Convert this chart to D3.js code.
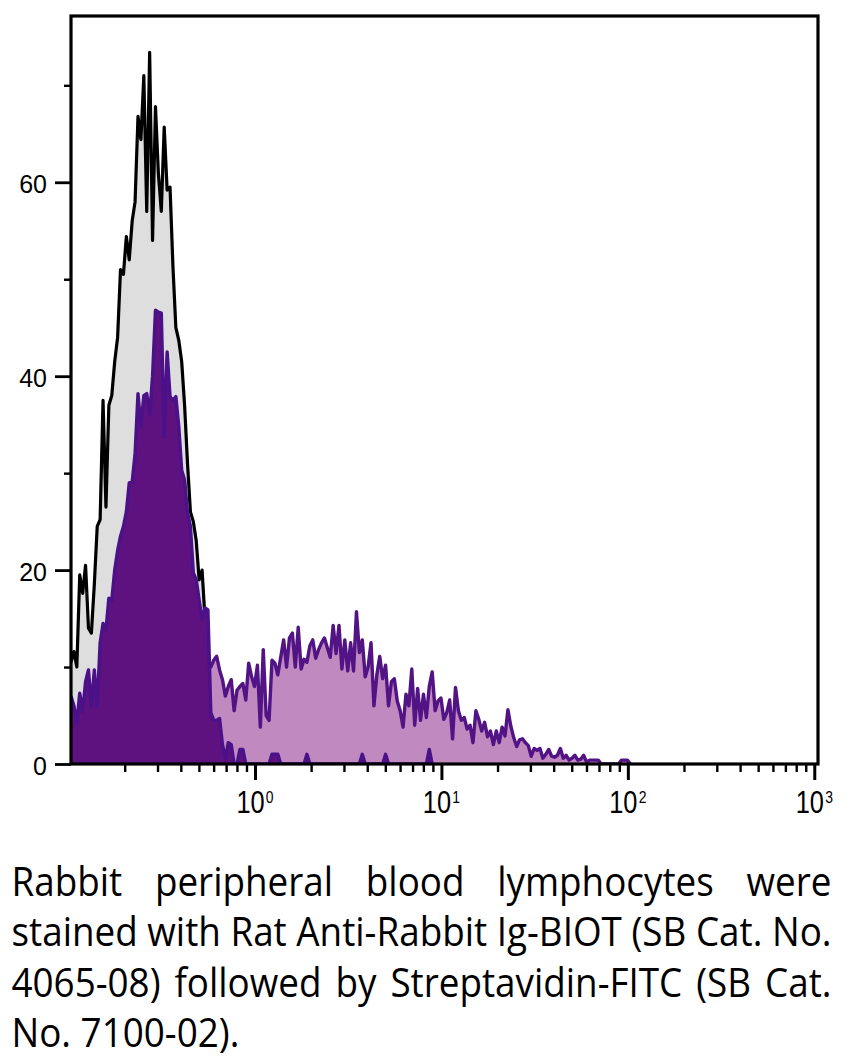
<!DOCTYPE html>
<html><head><meta charset="utf-8">
<script src="https://cdn.jsdelivr.net/npm/d3@7"></script>
<style>html,body{margin:0;padding:0;background:#fff;} svg{display:block;}</style>
</head><body>
<svg id="chart" width="850" height="1059"></svg>
<script>
// ---- data ----
const binsPerDecade = 64;          // histogram channels per decade
const firstChannelLog = -0.987;    // log10 of the first channel

// unstained cells (grey fill, black outline)
const unstainedCounts = [10.5,11.6,10,19.5,17.6,20.5,14,13.5,18.5,24.5,
  25.2,37.5,26.5,37,38,41.5,44,51,50.5,54.4,
  52,56,58,66.8,64.4,71,57,73.4,54,67.8,
  60.9,57,65.7,59.2,59.5,51.3,45,43.7,41.5,37,
  31,26,25,23,19,20,15,11,7,4,2,1,0];

// stained cells (light purple fill)
const stainedCounts = [3,3.5,2.5,4,3,5,5,3.5,5.5,4,
  7,8,7.5,9.5,9,11,12,13,13.5,14,
  16,15,17,19,18,20,20,19,21,22,
  23,22,18,21,19,19,19,18,16,16,
  14,14,11,11,10,9,10,10,
  10,10.7,11.1,9.7,8.7,7,8,8.7,5.5,7.6,
  8,8.3,6.6,10.4,9,8,10.2,3.8,11.8,5,
  4.5,10.7,10.4,9.2,11,12.8,10,13,13.5,10,
  14.1,9.8,10.8,10.5,12.2,12.8,10.9,11.8,12.5,13,
  12,11,14.3,11.4,14.3,9.8,12.8,9.6,12.5,9.6,
  15.7,11.5,12.8,9,10,12.5,6,9.2,11.1,8.8,
  10.2,6,8.5,8.8,6.5,5.5,3.8,7.2,6,9.8,
  4,7.8,4.5,7.2,4.8,8,9.5,5.5,6.5,6.8,
  4.6,5.3,6.6,2.6,7.9,5.5,4.5,4.8,3.6,4,
  2.2,5.5,4.6,3.4,4.3,2.8,3.4,2,3.4,2.2,
  3.8,2.9,5.6,3.9,2.7,1.8,2.5,2.6,2.2,1.9,
  0.8,1.6,1.4,1.6,0.6,1,1.5,0.8,0.7,0.9,
  1.6,0.6,0.9,0.4,0.6,0.9,0.4,0.5,0.9,0.2,
  0.4,0.4,0.4,0.4,0,0,0,0,0,0,
  0,0.4,0.4,0.4,0];

// control cells (dark purple fill)
const controlCounts = [7,6,4.2,7.3,5.4,8.5,9.7,5.9,9.7,6,
  12.5,14.5,13.8,17.1,16.9,20,22,23.5,24.5,26,
  29,29.1,32,38.2,34.8,38,38.2,36,40,46.8,
  46.6,46.5,33.7,42.5,37.9,37.5,37.9,34.8,30.3,29.3,
  25.9,24.5,19.7,19,16.9,14.9,16.1,15.9,5.3,4.5,
  4.5,4.7,2,0.5,2.2,2,0,0,1.5,1.5,
  0,0,0,0,0,0,0,0,0,1,
  1,1,0,0,0,0,0,0,0,0,
  0,1,0,0,0,0,0,0,0,0,
  0,0,0,0,0,0,0,0,0,0,
  1,0,0,0,0,0,0,0,1,0,
  0,0,0,0,0,0,0,0,0,0,
  0,0,0,1.5,0];

const xMajorTicks = [1, 10, 100, 1000];
const xTickExponents = ["0", "1", "2", "3"];
const xMinorTicks = [0.2,0.3,0.4,0.5,0.6,0.7,0.8,0.9,
  2,3,4,5,6,7,8,9, 20,30,40,50,60,70,80,90, 200,300,400,500,600,700,800,900];
const yMajorTicks = [0, 20, 40, 60];
const yMinorTicks = [10, 30, 50, 70];
const captionLines = [
  "Rabbit peripheral blood lymphocytes were",
  "stained with Rat Anti-Rabbit Ig-BIOT (SB Cat. No.",
  "4065-08) followed by Streptavidin-FITC (SB Cat.",
  "No. 7100-02)."
];

// ---- layout ----
const plot = {left: 71, right: 818, top: 16, bottom: 764};
const svg = d3.select("#chart");

const x = d3.scaleLog()
  .domain([Math.pow(10, -0.987), Math.pow(10, 3.02)])
  .range([plot.left, plot.right]);
const y = d3.scaleLinear().domain([0, 77.15]).range([plot.bottom, plot.top]);

const toPoints = arr => arr.map((v, i) => ({x: Math.pow(10, firstChannelLog + i / binsPerDecade), v}));

svg.append("defs").append("clipPath").attr("id", "clip")
  .append("rect").attr("x", plot.left).attr("y", plot.top)
  .attr("width", plot.right - plot.left).attr("height", plot.bottom - plot.top);

const area = d3.area().x(d => x(d.x)).y0(y(0)).y1(d => y(d.v)).curve(d3.curveLinear);
const line = d3.line().x(d => x(d.x)).y(d => y(d.v)).curve(d3.curveLinear);

const layers = [
  {data: unstainedCounts, fill: "#dedede", stroke: "#000000", sw: 3.2},
  {data: stainedCounts, fill: "#c089c0", stroke: "#521485", sw: 3.4},
  {data: controlCounts, fill: "#5e1280", stroke: "#4a1189", sw: 3.4}
];
const gPlot = svg.append("g").attr("clip-path", "url(#clip)");
layers.forEach(L => {
  const pts = toPoints(L.data);
  gPlot.append("path").datum(pts).attr("d", area).attr("fill", L.fill);
  gPlot.append("path").datum(pts).attr("d", line).attr("fill", "none")
    .attr("stroke", L.stroke).attr("stroke-width", L.sw).attr("stroke-linejoin", "round");
});

// ---- axes ----
const labelFont = "'Liberation Sans', Arial, sans-serif";
const yAxis = d3.axisLeft(y).tickValues(yMajorTicks).tickSize(16).tickPadding(8).tickFormat(d3.format("d"));
svg.append("g").attr("transform", `translate(${plot.left},0)`).call(yAxis)
  .call(g => g.select(".domain").remove())
  .call(g => g.selectAll("line").attr("stroke", "#000").attr("stroke-width", 2.8))
  .call(g => g.selectAll("text").attr("font-family", labelFont).attr("font-size", 25)
    .attr("fill", "#000").attr("dy", "0.4em"));
const yAxisMinor = d3.axisLeft(y).tickValues(yMinorTicks).tickSize(7).tickFormat("");
svg.append("g").attr("transform", `translate(${plot.left},0)`).call(yAxisMinor)
  .call(g => g.select(".domain").remove())
  .call(g => g.selectAll("line").attr("stroke", "#000").attr("stroke-width", 2.4));

const xAxis = d3.axisBottom(x).tickValues(xMajorTicks).tickSize(16).tickFormat("");
svg.append("g").attr("transform", `translate(0,${plot.bottom})`).call(xAxis)
  .call(g => g.select(".domain").remove())
  .call(g => g.selectAll("line").attr("stroke", "#000").attr("stroke-width", 3));
const xAxisMinor = d3.axisBottom(x).tickValues(xMinorTicks).tickSize(8).tickFormat("");
svg.append("g").attr("transform", `translate(0,${plot.bottom})`).call(xAxisMinor)
  .call(g => g.select(".domain").remove())
  .call(g => g.selectAll("line").attr("stroke", "#000").attr("stroke-width", 2.4));

// frame
svg.append("rect").attr("x", plot.left).attr("y", plot.top)
  .attr("width", plot.right - plot.left).attr("height", plot.bottom - plot.top)
  .attr("fill", "none").attr("stroke", "#000").attr("stroke-width", 3.2);

// x tick labels: 10^n
const xLab = svg.append("g").attr("font-family", labelFont).attr("fill", "#000");
xMajorTicks.forEach((v, i) => {
  const g = xLab.append("g").attr("transform", `translate(${x(v)},813) scale(0.82,1)`);
  const base = g.append("text").attr("font-size", 31).text("10");
  const sup = g.append("text").attr("font-size", 17).attr("y", -10.5).text(xTickExponents[i]);
  const wb = base.node().getComputedTextLength();
  const ws = sup.node().getComputedTextLength();
  const total = wb + 1.5 + ws;
  base.attr("x", -total / 2);
  sup.attr("x", -total / 2 + wb + 1.5);
});

// ---- caption (justified) ----
const cap = svg.append("g").attr("font-family", "'Open Sans', 'Noto Sans', sans-serif")
  .attr("font-size", 40).attr("fill", "#000");
function measure(str) {
  const t = cap.append("text").text(str);
  const w = t.node().getComputedTextLength();
  t.remove();
  return w;
}
const spaceW = measure("a a") - measure("aa");
const capLeft = 11.5, capWidth = 820;
const sx = capWidth / measure(captionLines[1]);
captionLines.forEach((ln, li) => {
  const g = cap.append("g").attr("transform", `translate(${capLeft},${896 + li * 50.4}) scale(${sx},1)`);
  const words = ln.split(" ");
  const widths = words.map(measure);
  const justify = li < captionLines.length - 1;
  const gap = justify ? (capWidth / sx - d3.sum(widths)) / (words.length - 1) : spaceW;
  let cx = 0;
  words.forEach((w, k) => {
    g.append("text").attr("x", cx).attr("y", 0).text(w);
    cx += widths[k] + gap;
  });
});
</script>
</body></html>
